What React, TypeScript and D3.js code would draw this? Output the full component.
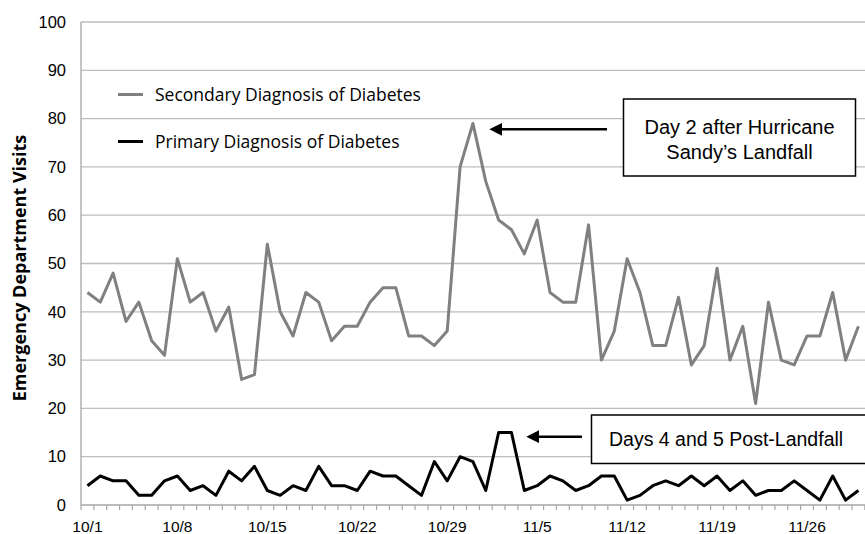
import React from "react";
import * as d3 from "d3";

const days: string[] = d3.range(61).map((i) => {
  const d = new Date(2012, 9, 1 + i);
  return `${d.getMonth() + 1}/${d.getDate()}`;
});

const secondary: number[] = [
  44, 42, 48, 38, 42, 34, 31, 51, 42, 44, 36, 41, 26, 27, 54, 40, 35, 44, 42, 34,
  37, 37, 42, 45, 45, 35, 35, 33, 36, 70, 79, 67, 59, 57, 52, 59, 44, 42, 42, 58,
  30, 36, 51, 44, 33, 33, 43, 29, 33, 49, 30, 37, 21, 42, 30, 29, 35, 35, 44, 30, 37,
];

const primary: number[] = [
  4, 6, 5, 5, 2, 2, 5, 6, 3, 4, 2, 7, 5, 8, 3, 2, 4, 3, 8, 4,
  4, 3, 7, 6, 6, 4, 2, 9, 5, 10, 9, 3, 15, 15, 3, 4, 6, 5, 3, 4,
  6, 6, 1, 2, 4, 5, 4, 6, 4, 6, 3, 5, 2, 3, 3, 5, 3, 1, 6, 1, 3,
];

const yTicks: number[] = [0, 10, 20, 30, 40, 50, 60, 70, 80, 90, 100];
const xLabels: string[] = ["10/1", "10/8", "10/15", "10/22", "10/29", "11/5", "11/12", "11/19", "11/26"];

const W = 865;
const H = 534;
const left = 81;
const right = 866;
const top = 22;
const bottom = 505;

export default function App() {
  const x = d3.scaleBand<string>().domain(days).range([left, left + 61 * 12.85]).paddingInner(0).paddingOuter(0);
  const y = d3.scaleLinear().domain([0, 100]).range([bottom, top]);
  const cx = (d: string) => (x(d) as number) + x.bandwidth() / 2;
  const line = d3
    .line<number>()
    .x((_, i) => cx(days[i]))
    .y((v) => y(v));

  const font = "Arial, 'Liberation Sans', sans-serif";
  const cal = "'Open Sans', 'Noto Sans', sans-serif";

  const boundaries = d3.range(62).map((i) => left + i * x.bandwidth());

  return (
    <svg width={W} height={H} style={{ position: "absolute", left: 0, top: 0, background: "#fff" }}>
      <defs>
        <clipPath id="clip">
          <rect x={0} y={0} width={W} height={H} />
        </clipPath>
        <marker id="ah" viewBox="0 0 10 10" refX="1" refY="5" markerWidth="5" markerHeight="5" orient="auto-start-reverse" markerUnits="strokeWidth">
          <path d="M0,0 L10,5 L0,10 z" fill="#000" />
        </marker>
      </defs>
      <rect x={0} y={0} width={W} height={H} fill="#fff" />
      {/* gridlines */}
      {yTicks.filter((t) => t > 0).map((t) => (
        <line key={t} x1={left} x2={right} y1={y(t)} y2={y(t)} stroke="#bdbdbd" strokeWidth={1.3} />
      ))}
      {/* axes */}
      <line x1={left} x2={left} y1={top} y2={bottom} stroke="#a6a6a6" strokeWidth={1.3} />
      <line x1={left} x2={right} y1={bottom} y2={bottom} stroke="#a6a6a6" strokeWidth={1.3} />
      {boundaries.map((b, i) => (
        <line key={i} x1={b} x2={b} y1={bottom} y2={bottom + 5} stroke="#a6a6a6" strokeWidth={1.2} />
      ))}
      {yTicks.map((t) => (
        <text key={t} x={66} y={y(t)} dy="0.35em" textAnchor="end" fontFamily={font} fontSize={16.5} fill="#000">
          {t}
        </text>
      ))}
      {xLabels.map((l) => (
        <text key={l} x={cx(l)} y={532} textAnchor="middle" fontFamily={font} fontSize={15.5} fill="#000">
          {l}
        </text>
      ))}
      <text
        transform={`translate(26, 268) rotate(-90)`}
        textAnchor="middle"
        fontFamily={cal}
        fontWeight="bold"
        fontSize={18}
        fill="#000"
      >
        Emergency Department Visits
      </text>
      {/* series */}
      <g clipPath="url(#clip)">
        <path d={line(secondary) ?? ""} fill="none" stroke="#808080" strokeWidth={3} strokeLinejoin="round" />
        <path d={line(primary) ?? ""} fill="none" stroke="#000" strokeWidth={3} strokeLinejoin="round" />
      </g>
      {/* legend */}
      <line x1={118} x2={143} y1={94.5} y2={94.5} stroke="#808080" strokeWidth={3} />
      <text x={155} y={94.5} dy="0.35em" fontFamily={cal} fontSize={17.5} fill="#000">
        Secondary Diagnosis of Diabetes
      </text>
      <line x1={118} x2={143} y1={141.5} y2={141.5} stroke="#000" strokeWidth={3} />
      <text x={155} y={141.5} dy="0.35em" fontFamily={cal} fontSize={17.5} fill="#000">
        Primary Diagnosis of Diabetes
      </text>
      {/* annotation 1 */}
      <rect x={623.5} y={99} width={232} height={77} fill="#fff" stroke="#000" strokeWidth={1.5} />
      <text x={739.5} y={126.5} dy="0.35em" textAnchor="middle" fontFamily={font} fontSize={20} fill="#000">
        Day 2 after Hurricane
      </text>
      <text x={739.5} y={152} dy="0.35em" textAnchor="middle" fontFamily={font} fontSize={20} fill="#000">
        Sandy’s Landfall
      </text>
      <line x1={607} x2={501} y1={129.3} y2={129.3} stroke="#000" strokeWidth={2.6} markerEnd="url(#ah)" />
      {/* annotation 2 */}
      <rect x={591.5} y={415} width={290} height={48.5} fill="#fff" stroke="#000" strokeWidth={1.5} />
      <text x={609} y={439.5} dy="0.35em" fontFamily={font} fontSize={19.5} fill="#000">
        Days 4 and 5 Post-Landfall
      </text>
      <line x1={582} x2={538} y1={436.7} y2={436.7} stroke="#000" strokeWidth={2.6} markerEnd="url(#ah)" />
    </svg>
  );
}
